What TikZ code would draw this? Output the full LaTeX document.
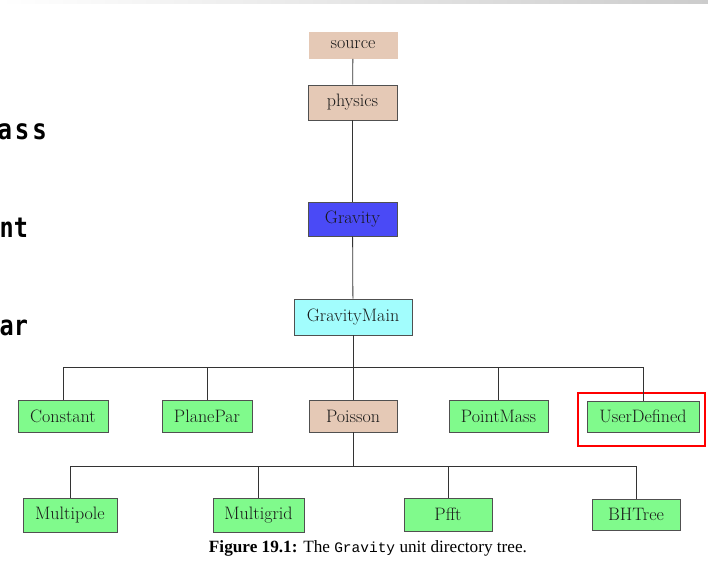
\documentclass[tikz,border=0pt]{standalone}
\usepackage{fontspec}
\newfontfamily\capfont{Liberation Serif}
\newfontfamily\capmono{Liberation Mono}
\newfontfamily\sidefont{DejaVu Sans Mono}
\newfontfamily\sidefontwide[LetterSpace=12]{DejaVu Sans Mono}
\definecolor{beige}{HTML}{E5C9B6}
\definecolor{lgreen}{HTML}{80FA8C}
\definecolor{gblue}{HTML}{4A4AF6}
\definecolor{gcyan}{HTML}{A2FDFD}
\definecolor{edge}{HTML}{505050}
\begin{document}
\begin{tikzpicture}[x=1pt,y=-1pt,
  dirbox/.style={draw=edge, line width=0.9pt, inner sep=0pt, text=black!90,
    font=\fontsize{18}{19}\selectfont},
  conn/.style={draw=black!80, line width=0.8pt},
  sidetxt/.style={font=\sidefont\bfseries\fontsize{23.5}{28}\selectfont, inner sep=0pt, yscale=1.18}]
\useasboundingbox (0,0) rectangle (708,563);
\shade[left color=white, right color=black!20] (0,0) rectangle (708,3);
% side text
\node[sidetxt, font=\sidefontwide\bfseries\fontsize{24}{28}\selectfont, anchor=base east] (s1) at (47,139) {ass};
\node[sidetxt, anchor=base west] (s2) at (-0.5,237) {nt};
\node[sidetxt, anchor=base west] (s3) at (-0.5,335) {ar};
% nodes
\node[dirbox, draw=none, fill=beige, minimum width=89pt, minimum height=27pt] (source) at (353,45) {source};
\node[dirbox, fill=beige, minimum width=89pt, minimum height=35pt] (physics) at (352.5,102.5) {physics};
\node[dirbox, fill=gblue, minimum width=89pt, minimum height=34pt] (gravity) at (352.5,219) {Gravity};
\node[dirbox, fill=gcyan, minimum width=118pt, minimum height=36pt] (gmain) at (353,317) {GravityMain};
\node[dirbox, fill=lgreen, minimum width=90pt, minimum height=32pt] (constant) at (63,416) {Constant};
\node[dirbox, fill=lgreen, minimum width=90pt, minimum height=32pt] (planepar) at (207,416) {PlanePar};
\node[dirbox, fill=beige, minimum width=88pt, minimum height=32pt] (poisson) at (353,416) {Poisson};
\node[dirbox, fill=lgreen, minimum width=99pt, minimum height=32pt] (pointmass) at (498.5,416) {PointMass};
\node[dirbox, fill=lgreen, minimum width=112pt, minimum height=31pt] (userdef) at (643,416.5) {UserDefined};
\node[dirbox, fill=lgreen, minimum width=94pt, minimum height=34pt] (multipole) at (70,515) {Multipole};
\node[dirbox, fill=lgreen, minimum width=91pt, minimum height=34pt] (multigrid) at (258.5,515) {Multigrid};
\node[dirbox, fill=lgreen, minimum width=88pt, minimum height=33pt] (pfft) at (448,514.5) {Pfft};
\node[dirbox, fill=lgreen, minimum width=88pt, minimum height=31pt] (bhtree) at (636,514.5) {BHTree};
% highlight
\node[draw=red, line width=2pt, minimum width=127pt, minimum height=53pt, inner sep=0pt] (hl) at (641.5,419.5) {};
% connectors
\coordinate (b1) at (353,367);
\coordinate (b2) at (353,466);
\draw[conn] (source) -- (physics);
\draw[conn] (physics) -- (gravity);
\draw[conn] (gravity) -- (gmain);
\draw[conn] (gmain.south) -- (b1);
\draw[conn] (constant.north) |- (b1);
\draw[conn] (planepar.north) |- (b1);
\draw[conn] (poisson.north) -- (b1);
\draw[conn] (pointmass.north -| 498,0) |- (b1);
\draw[conn] (userdef.north) |- (b1);
\draw[conn] (poisson.south) -- (b2);
\draw[conn] (multipole.north) |- (b2);
\draw[conn] (multigrid.north) |- (b2);
\draw[conn] (pfft.north) |- (b2);
\draw[conn] (bhtree.north) |- (b2);
% caption
\node[anchor=base, inner sep=0pt, font=\capfont\fontsize{17.2}{19}\selectfont] (cap) at (368,552)
  {\textbf{Figure 19.1:} The {\capmono\fontsize{14.5}{16}\selectfont Gravity} unit directory tree.};
\end{tikzpicture}
\end{document}
